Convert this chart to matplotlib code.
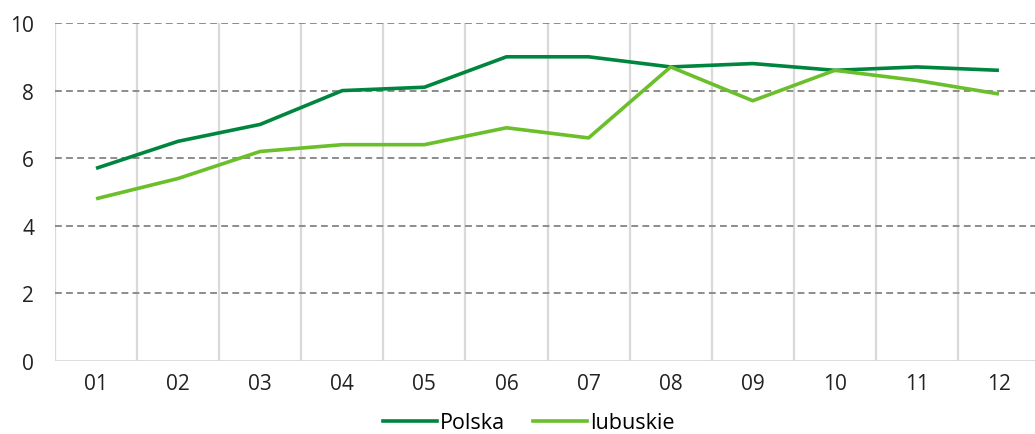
import matplotlib
matplotlib.use("Agg")
import matplotlib.pyplot as plt
from matplotlib.lines import Line2D

categories = ["01", "02", "03", "04", "05", "06", "07", "08", "09", "10", "11", "12"]
polska = [5.7, 6.5, 7.0, 8.0, 8.1, 9.0, 9.0, 8.7, 8.8, 8.6, 8.7, 8.6]
lubuskie = [4.8, 5.4, 6.2, 6.4, 6.4, 6.9, 6.6, 8.7, 7.7, 8.6, 8.3, 7.9]
yticks = [0, 2, 4, 6, 8, 10]

plt.rcParams['font.family'] = ['Open Sans', 'DejaVu Sans']

fig = plt.figure(figsize=(10.35, 4.35), dpi=100)
ax = fig.add_axes([55/1035, 1 - 362/435, (1040-55)/1035, (362-24)/435])

x = list(range(len(categories)))
ax.set_xlim(-0.5, len(categories) - 0.5)
ax.set_ylim(0, 10)

for b in range(len(categories)):
    ax.axvline(b - 0.5, color='#d9d9d9', lw=1.6, zorder=1)
for t in yticks[1:]:
    ax.axhline(t, color='#8c8c8c', lw=1.4, ls=(0, (3.5, 2.2)), zorder=1)
ax.axhline(0, color='#d9d9d9', lw=2, zorder=1)

ax.plot(x, polska, color='#00853f', lw=2.6, zorder=3, solid_capstyle='butt')
ax.plot(x, lubuskie, color='#6abf2b', lw=2.6, zorder=3, solid_capstyle='butt')

for s in ax.spines.values():
    s.set_visible(False)
ax.set_xticks(x)
ax.set_xticklabels(categories, fontsize=15, color='#222222')
ax.set_yticks(yticks)
ax.set_yticklabels([str(t) for t in yticks], fontsize=15, color='#222222')
ax.tick_params(length=0)
ax.tick_params(axis='x', pad=9)
ax.tick_params(axis='y', pad=15)

handles = [Line2D([0], [0], color='#00853f', lw=2.6),
           Line2D([0], [0], color='#6abf2b', lw=2.6)]
fig.legend(handles, ["Polska", "lubuskie"], loc='center', bbox_to_anchor=(529/1035, 1 - 424/435),
           ncol=2, frameon=False, fontsize=15.5, handlelength=2.5, handletextpad=0.15,
           columnspacing=1.3)

fig.savefig("out.png", dpi=100)
